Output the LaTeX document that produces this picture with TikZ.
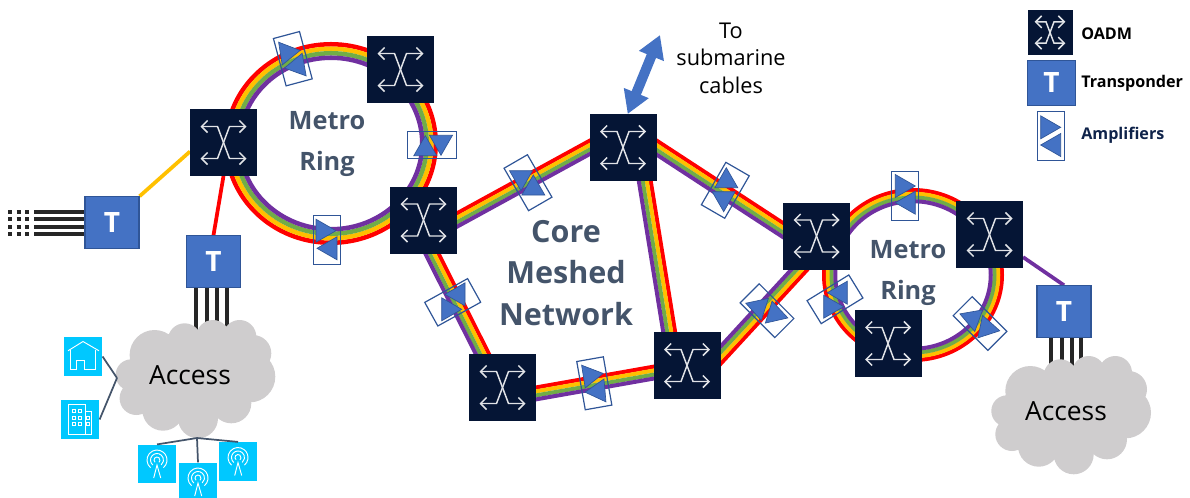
\documentclass[tikz,border=0pt]{standalone}
\usepackage{fontspec}
\setmainfont{Open Sans}
\usetikzlibrary{calc,arrows.meta,backgrounds}

\definecolor{oadmnavy}{HTML}{051535}
\definecolor{tblue}{HTML}{4472C4}
\definecolor{tedge}{HTML}{2F5597}
\definecolor{slate}{HTML}{44546A}
\definecolor{iconcyan}{HTML}{00C8FF}
\definecolor{cloudgrey}{HTML}{CFCDCE}
\definecolor{fibreblack}{HTML}{262626}
\definecolor{bandred}{HTML}{FF0000}
\definecolor{bandgold}{HTML}{FFC000}
\definecolor{bandgreen}{HTML}{70AD47}
\definecolor{bandpurple}{HTML}{7030A0}

\tikzset{every picture/.style={line width=0.75pt}}
\tikzset{
	flip/.style={yscale=-1},
	oadm/.style={rectangle,fill=oadmnavy,draw=oadmnavy,minimum size=49.5pt,inner sep=0pt},
	tbox/.style={rectangle,fill=tblue,draw=tedge,line width=0.9pt,text=white,inner sep=0pt,
		font=\fontsize{21}{21}\selectfont\bfseries,minimum width=40.5pt,minimum height=38.5pt},
	iconbox/.style={rectangle,fill=iconcyan,minimum width=29pt,minimum height=29pt,inner sep=0pt},
	band/.style={line width=3pt},
	feeder/.style={line width=2.8pt},
	fibre/.style={fibreblack,line width=3pt},
	fibredots/.style={fibreblack,line width=3pt,dash pattern=on 3pt off 3.4pt},
	spur/.style={slate,line width=1.3pt},
	glyph/.style={white,line width=0.7pt},
	ringlabel/.style={text=slate,align=center,font=\fontsize{19}{31}\selectfont\bfseries},
	legendlabel/.style={anchor=west,inner sep=0pt,font=\fontsize{12.1}{15}\selectfont\bfseries},
	accesslabel/.style={inner sep=0pt,font=\fontsize{19.8}{24}\selectfont},
	% cross-connect symbol drawn on each OADM
	xcross/.pic={
		\draw[white!88!oadmnavy,line width=1.1pt,{Straight Barb[length=4.5pt,width=9pt]}-{Straight Barb[length=4.5pt,width=9pt]}]
			(-23,-16) -- (-6,-16) -- (6,16) -- (23,16);
		\draw[white!88!oadmnavy,line width=1.1pt,{Straight Barb[length=4.5pt,width=9pt]}-{Straight Barb[length=4.5pt,width=9pt]}]
			(23,-16) -- (6,-16) -- (-6,16) -- (-23,16);
	},
	ampframe/.pic={\draw[tedge,line width=0.9pt] (-13.5,-24.5) rectangle (13.5,24.5);},
	amptri/.pic={\draw[tblue,fill=tblue,line width=0.5pt,draw=tedge] (-10,-11.5) -- (10,0) -- (-10,11.5) -- cycle;},
	% grey cloud built out of round puffs
	accesscloud/.pic={
		\fill[cloudgrey] (0,0) ellipse [x radius=60,y radius=40]
			(-41.7,-24) circle [radius=25] (-11.7,-39) circle [radius=16.7]
			(16.7,-42.3) circle [radius=16.7] (43.3,-42.3) circle [radius=16.7]
			(56.7,-25.7) circle [radius=18.3] (53.3,-2.3) circle [radius=25.7]
			(35,24.3) circle [radius=20] (1.7,39.3) circle [radius=20]
			(-33.3,31) circle [radius=20.7] (-60,19.3) circle [radius=16.7]
			(-65,-4) circle [radius=15.7];
	},
	househalf/.pic={
		\draw[glyph] (-15,-5.7) -- (0,-15) -- (16,-5.7);
		\draw[glyph] (-12.3,-7) -- (-12.3,13) -- (-6.7,13) -- (-6.7,3.7) -- (1,3.7) -- (1,13) -- (12.7,13) -- (12.7,-7);
	},
	towerglyph/.pic={
		\draw[glyph] (-11.7,-14.7) rectangle (5,15.3);
		\draw[glyph] (5,-8) -- (11.7,-8) -- (11.7,15.3) -- (5,15.3);
		\foreach \wx in {-8,-1.3} \foreach \wy in {-10,-3.3,3.3}
			\draw[glyph] (\wx,\wy) rectangle ++(3,3);
		\foreach \wy in {-3.3,3.3} \draw[glyph] (6.5,\wy) rectangle ++(3,3);
	},
	mastglyph/.pic={
		\foreach \ar in {3,6.5,10}
			\draw[glyph] ([shift={(130:\ar)}]0,-4) arc [start angle=130,end angle=410,radius=\ar];
		\draw[glyph] (-3.3,14) -- (0,1) -- (3.7,14);
	},
}

% rainbow link, red on the left going from #1 to #2
\newcommand{\opticlink}[2]{%
	\foreach \off/\col in {4.4pt/bandred,1.5pt/bandgold,-1.5pt/bandgreen,-4.4pt/bandpurple}
		\draw[band,\col,shorten <=-6pt,shorten >=-6pt] ($(#1)!\off!-90:(#2)$) -- ($(#2)!\off!90:(#1)$);
}

\begin{document}
\begin{tikzpicture}[x=0.75pt,y=0.75pt,yscale=-1,xscale=1]
	\useasboundingbox (0,0) rectangle (1190,497);

	%OADM nodes
	\node[oadm] (metroleft) at (223.5,142.5) {};
	\node[oadm] (metrotop) at (400.5,69.5) {};
	\node[oadm] (coreleft) at (423.5,220) {};
	\node[oadm] (coretop) at (623,147.5) {};
	\node[oadm] (corelow) at (502.5,387.5) {};
	\node[oadm] (coremid) at (687,365.5) {};
	\node[oadm] (coreright) at (816.5,236) {};
	\node[oadm] (ringright) at (989.5,234.5) {};
	\node[oadm] (ringlow) at (888,343.5) {};
	\foreach \n in {metroleft,metrotop,coreleft,coretop,corelow,coremid,coreright,ringright,ringlow}
		\pic[flip] at (\n) {xcross};

	%Transponders
	\node[tbox] (transleft) at (112,222.5) {T};
	\node[tbox] (transmid) at (213.5,261.5) {T};
	\node[tbox] (transright) at (1064,311.5) {T};

	%Ring centres and free ends
	\coordinate (metrocentre) at (331,143.5);
	\coordinate (ringcentre) at (913,275);
	\coordinate (subseaend) at (660,35);
	\coordinate (hubhome) at (117,378);
	\coordinate (hubmast) at (197,438);

	\begin{pgfonlayer}{background}
		%Rings
		\foreach \rad/\col in {0/bandred,4.5/bandgold,9/bandgreen,13.5/bandpurple}
			\draw[line width=3.4pt,\col] (metrocentre) ellipse [x radius=104.75-\rad,y radius=99.25-\rad];
		\foreach \rad/\col in {0/bandred,3.75/bandgold,7.5/bandgreen,11.25/bandpurple}
			\draw[band,\col] (ringcentre) ellipse [x radius=89-\rad,y radius=85-\rad];
		%Core links
		\opticlink{coreleft.east}{coretop.west}
		\opticlink{coretop.east}{coreright.170}
		\opticlink{coretop.-57}{coremid.118}
		\opticlink{coreleft.-76}{corelow.121}
		\opticlink{corelow.-10}{coremid.192}
		\opticlink{coreright.243}{coremid.17}
		%Feeders
		\draw[feeder,bandgold] (transleft.north east) -- (metroleft.195);
		\draw[feeder,bandred] (metroleft.south) -- (transmid.north);
		\draw[feeder,bandpurple] (ringright.-34) -- (transright.north);
		%Black fibres
		\foreach \fy in {212,219.3,226.7,234.3} {
			\coordinate (fibreend) at (34,\fy);
			\coordinate (dotstart) at (8,\fy);
			\coordinate (dotend) at (30,\fy);
			\draw[fibre] (fibreend) -- (fibreend -| transleft.west);
			\draw[fibredots] (dotstart) -- (dotend);
		}
		\foreach \fx in {196,207.3,217.3,227} {
			\coordinate (fibreend) at (\fx,330);
			\draw[fibre] (fibreend |- transmid.south) -- (fibreend);
		}
		\foreach \fx in {1050.7,1061.7,1071.7,1081} {
			\coordinate (fibreend) at (\fx,370);
			\draw[fibre] (fibreend |- transright.south) -- (fibreend);
		}
	\end{pgfonlayer}

	%Submarine arrow
	\draw[tblue,line width=7.5pt,{Triangle[width=19pt,length=17pt]}-{Triangle[width=19pt,length=17pt]}] (coretop.82) -- (subseaend);

	%Amplifiers
	\foreach \ax/\ay/\ar in {292.8/58.7/-15,432.3/144.7/-90,327/240/0,528/182.7/-30,725.3/190.3/30,452.7/302.3/-119,594.3/383.3/-10,767/310.7/-45,905.3/195.7/0,835/299.3/-121.6,980/323.5/-45,1050.7/136/0}
		\pic[flip,rotate=\ar] at (\ax,\ay) {ampframe};
	\foreach \ax/\ay/\ar in {
		290.3/52/-9,294.3/66.3/170,
		425.3/145.7/-90,441/145.3/90,
		326/230.7/0,327/248.3/180,
		521/180.7/90,533.3/185/-90,
		726.3/177.7/-90,723.7/201.7/90,
		455/294.3/180,451.7/309.3/0,
		593.3/375/-9,595/391.3/175,
		755.3/306.3/198,778.3/315/17,
		905.3/186/0,905.3/202.7/180,
		837.3/292.7/180,833.7/306.7/0,
		969.3/317.3/200,990/328.7/12,
		1050.7/127.3/0,1050.7/145/180}
		\pic[flip,rotate=\ar] at (\ax,\ay) {amptri};

	%Access clouds
	\pic[flip] at (196.3,379) {accesscloud};
	\pic[flip] at (1072,415) {accesscloud};
	\node[accesslabel] (accessleft) at (190,375) {Access};
	\node[accesslabel] (accessright) at (1066,411.5) {Access};

	%Cyan icons
	\node[iconbox] (homeicon) at (83,356.5) {};
	\node[iconbox] (towericon) at (80,419.5) {};
	\node[iconbox] (mastleft) at (157,464) {};
	\node[iconbox] (mastmid) at (198,482) {};
	\node[iconbox] (mastright) at (238,461.5) {};
	\pic[flip] at (homeicon) {househalf};
	\pic[flip] at (towericon) {towerglyph};
	\foreach \n in {mastleft,mastmid,mastright}
		\pic[flip] at (\n) {mastglyph};
	\draw[spur] (homeicon.east) -- (hubhome);
	\draw[spur] (towericon.east) -- (hubhome);
	\draw[spur] (hubmast) -- (mastleft.north);
	\draw[spur] (hubmast) -- (mastmid.north);
	\draw[spur] (hubmast) -- (mastright.north);

	% Text Node
	\node[ringlabel] (metrolabel) at (327,144) {Metro\\Ring};
	\node[ringlabel] (ringlabel) at (908,273) {Metro\\Ring};
	\node[text=slate,align=center,font=\fontsize{22.9}{31.2}\selectfont\bfseries] (corelabel) at (566,273) {Core\\Meshed\\Network};
	\node[align=center,font=\fontsize{16.3}{20.6}\selectfont] (subsealabel) at (731,58) {To\\submarine\\cables};

	%Legend
	\node[oadm,minimum size=33pt] (legendoadm) at (1050,32.5) {};
	\pic[flip,scale=0.667] at (legendoadm) {xcross};
	\node[tbox,minimum width=35.5pt,minimum height=34pt] (legendtrans) at (1051.5,83) {T};
	\node[legendlabel] (oadmlabel) at (1081,34) {OADM};
	\node[legendlabel] (translabel) at (1081,83) {Transponder};
	\node[legendlabel,text=oadmnavy!85!tblue] (amplabel) at (1081,135) {Amplifiers};
\end{tikzpicture}
\end{document}
